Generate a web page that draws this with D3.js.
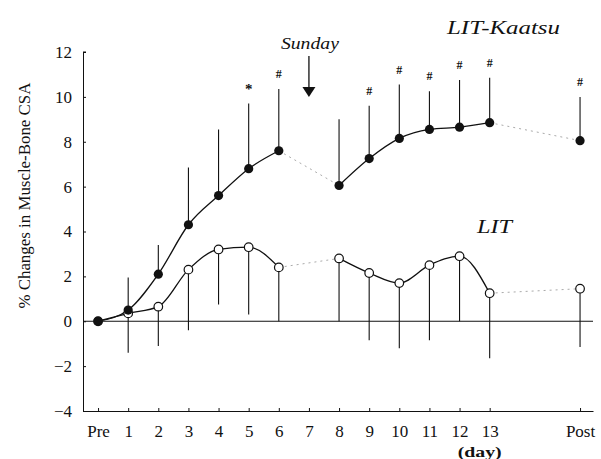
<!DOCTYPE html>
<html>
<head>
<meta charset="utf-8">
<script src="https://cdn.jsdelivr.net/npm/d3@7"></script>
<style>
  html, body { margin: 0; padding: 0; background: #fff; }
</style>
</head>
<body>
<div id="chart"></div>
<script>
const FONT = "'Liberation Serif', 'Times New Roman', Times, 'DejaVu Serif', serif";

// x tick positions (Pre = 0, days 1..13, Post shown after a gap)
const tickDays = [0, 1, 2, 3, 4, 5, 6, 7, 8, 9, 10, 11, 12, 13, 16];
const tickLabels = ['Pre', '1', '2', '3', '4', '5', '6', '7', '8', '9', '10', '11', '12', '13', 'Post'];
const yTicks = [-4, -2, 0, 2, 4, 6, 8, 10, 12];

// measurement days (no measurement on day 7, Sunday)
const days = [0, 1, 2, 3, 4, 5, 6, 8, 9, 10, 11, 12, 13, 16];
const kaatsuMean = [0, 0.5, 2.1, 4.3, 5.6, 6.8, 7.6, 6.05, 7.25, 8.15, 8.55, 8.65, 8.85, 8.05];
const kaatsuSD   = [0, 1.45, 1.3, 2.55, 2.95, 2.9, 2.75, 2.95, 2.35, 2.4, 1.7, 2.1, 2.0, 1.95];
const litMean    = [0, 0.35, 0.65, 2.3, 3.2, 3.3, 2.4, 2.8, 2.15, 1.7, 2.5, 2.9, 1.25, 1.45];
const litSD      = [0, 1.75, 1.75, 2.7, 2.45, 3.0, 2.4, 2.8, 3.0, 2.9, 3.35, 2.9, 2.9, 2.6];
const sigMarks   = [
  { day: 5, mark: '*' }, { day: 6, mark: '#' }, { day: 9, mark: '#' }, { day: 10, mark: '#' },
  { day: 11, mark: '#' }, { day: 12, mark: '#' }, { day: 13, mark: '#' }, { day: 16, mark: '#' }
];

const width = 601, height = 459;
const svg = d3.select('#chart').append('svg').attr('width', width).attr('height', height)
  .attr('font-family', FONT);

const x = d3.scaleLinear().domain([-0.5, 16.43]).range([83, 593]);
const y = d3.scaleLinear().domain([-4, 12]).range([411, 52]);

const pts = (means) => days.map((d, i) => ({ day: d, v: means[i], i }));
const kaatsu = pts(kaatsuMean);
const lit = pts(litMean);

const label = (sel) => sel.style('font-family', FONT).attr('fill', '#111');

// Axes
const yAxis = svg.append('g').attr('transform', `translate(${x(-0.5)},0)`)
  .call(d3.axisLeft(y).tickValues(yTicks).tickSizeInner(-3).tickSizeOuter(0).tickPadding(11));
const xAxis = svg.append('g').attr('transform', `translate(0,${y(-4)})`)
  .call(d3.axisBottom(x).tickValues(tickDays).tickFormat((d, i) => tickLabels[i])
    .tickSizeInner(-3).tickSizeOuter(0).tickPadding(14));
[yAxis, xAxis].forEach(a => {
  a.attr('font-family', FONT);
  a.select('.domain').attr('stroke', '#111');
  a.selectAll('.tick line').attr('stroke', '#111');
  a.selectAll('text').call(label).style('font-size', '17px');
});
// top tick mark at 12
svg.append('line').attr('x1', x(-0.5)).attr('x2', x(-0.5) + 3)
  .attr('y1', y(12)).attr('y2', y(12)).attr('stroke', '#111');

// zero line
svg.append('line').attr('x1', x(-0.5)).attr('x2', x(16.43))
  .attr('y1', y(0)).attr('y2', y(0)).attr('stroke', '#111').attr('stroke-width', 1.2);

svg.append('text').call(label).attr('x', x(13) - 10).attr('y', 457)
  .style('font-size', '15px').style('font-weight', 'bold').attr('text-anchor', 'middle')
  .attr('textLength', 44).attr('lengthAdjust', 'spacingAndGlyphs').text('(day)');

svg.append('text').call(label).attr('transform', `translate(30,${y(5.6)}) rotate(-90)`)
  .attr('text-anchor', 'middle').style('font-size', '17px')
  .attr('textLength', 226).attr('lengthAdjust', 'spacingAndGlyphs')
  .text('% Changes in Muscle-Bone CSA');

// Lines
const line = d3.line().x(d => x(d.day)).y(d => y(d.v)).curve(d3.curveMonotoneX);
const drawSeries = (data) => {
  svg.append('path').datum(data.slice(0, 7)).attr('d', line)
    .attr('fill', 'none').attr('stroke', '#111').attr('stroke-width', 1.3);
  svg.append('path').datum(data.slice(7, 13)).attr('d', line)
    .attr('fill', 'none').attr('stroke', '#111').attr('stroke-width', 1.3);
  [[6, 7], [12, 13]].forEach(([a, b]) => {
    svg.append('path').datum([data[a], data[b]]).attr('d', line)
      .attr('fill', 'none').attr('stroke', '#aaa').attr('stroke-width', 1)
      .attr('stroke-dasharray', '2,4');
  });
};
drawSeries(kaatsu);
drawSeries(lit);

// Error bars: Kaatsu up, LIT down
kaatsu.forEach(d => {
  if (!kaatsuSD[d.i]) return;
  svg.append('line').attr('x1', x(d.day)).attr('x2', x(d.day))
    .attr('y1', y(d.v)).attr('y2', y(d.v + kaatsuSD[d.i])).attr('stroke', '#111').attr('stroke-width', 1.1);
});
lit.forEach(d => {
  if (!litSD[d.i]) return;
  svg.append('line').attr('x1', x(d.day)).attr('x2', x(d.day))
    .attr('y1', y(d.v)).attr('y2', y(d.v - litSD[d.i])).attr('stroke', '#111').attr('stroke-width', 1.1);
});

// Markers
svg.selectAll('circle.lit').data(lit).join('circle').attr('class', 'lit')
  .attr('cx', d => x(d.day)).attr('cy', d => y(d.v)).attr('r', 4.3)
  .attr('fill', '#fff').attr('stroke', '#111').attr('stroke-width', 1.2);
svg.selectAll('circle.kaatsu').data(kaatsu).join('circle').attr('class', 'kaatsu')
  .attr('cx', d => x(d.day)).attr('cy', d => y(d.v)).attr('r', 4.6)
  .attr('fill', '#111');

// Significance marks
sigMarks.forEach(s => {
  const i = days.indexOf(s.day);
  svg.append('text').call(label).attr('x', x(s.day)).attr('y', y(kaatsuMean[i] + kaatsuSD[i]) - 15)
    .attr('dy', '0.35em').attr('text-anchor', 'middle')
    .style('font-size', s.mark === '*' ? '15px' : '12px').style('font-weight', 'bold')
    .text(s.mark);
});

// Sunday arrow
svg.append('text').call(label).attr('x', x(7) + 1).attr('y', 49).attr('text-anchor', 'middle')
  .style('font-size', '16px').style('font-style', 'italic')
  .attr('textLength', 58).attr('lengthAdjust', 'spacingAndGlyphs').text('Sunday');
svg.append('line').attr('x1', x(7)).attr('x2', x(7)).attr('y1', 56).attr('y2', 89)
  .attr('stroke', '#111').attr('stroke-width', 1.3);
svg.append('path')
  .attr('d', `M${x(7) - 6.5},87 L${x(7) + 6.5},87 L${x(7)},97 Z`).attr('fill', '#111');

// Series labels
svg.append('text').call(label).attr('x', 447).attr('y', 34)
  .style('font-size', '19px').style('font-style', 'italic')
  .attr('textLength', 113).attr('lengthAdjust', 'spacingAndGlyphs').text('LIT-Kaatsu');
svg.append('text').call(label).attr('x', 477).attr('y', 233)
  .style('font-size', '19px').style('font-style', 'italic')
  .attr('textLength', 35).attr('lengthAdjust', 'spacingAndGlyphs').text('LIT');
</script>
</body>
</html>
